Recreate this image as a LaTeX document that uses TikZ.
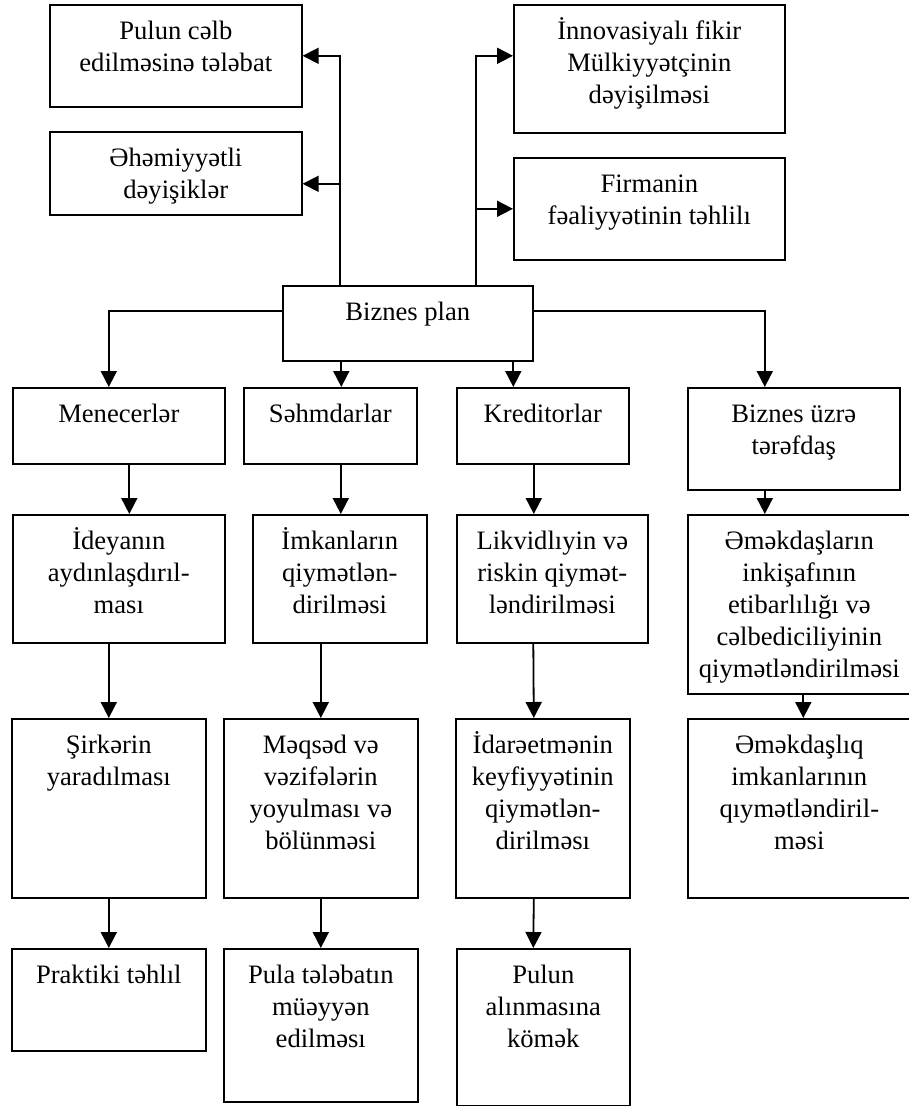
\documentclass[tikz,border=0pt]{standalone}
\usepackage{fontspec}
\setmainfont{Liberation Serif}
\usetikzlibrary{arrows.meta}
\newcommand\tb[3]{\parbox[c][#2pt][t]{#1pt}{\centering\vspace*{12pt}\strut #3}}
\tikzset{
  blk/.style={draw,line width=1.6pt,inner sep=0pt,anchor=north west,
    font=\fontsize{26.6}{32}\selectfont},
}
\begin{document}
\begin{tikzpicture}[x=1pt,y=-1pt,line width=1.8pt,>={Triangle[length=16pt,width=16pt]}]
\useasboundingbox (0,0) rectangle (908,1106);
\node[blk] (pulc) at (49,4) {\tb{252}{102}{Pulun cəlb\\edilməsinə tələbat}};
\node[blk] (ahem) at (49,131) {\tb{252}{83}{Əhəmiyyətli\\dəyişiklər}};
\node[blk] (innov) at (513,4) {\tb{271}{128}{İnnovasiyalı fikir\\Mülkiyyətçinin\\dəyişilməsi}};
\node[blk] (firm) at (513,157) {\tb{271}{102}{Firmanin\\fəaliyyətinin təhlilı}};
\node[blk] (plan) at (282,285) {\tb{250}{75}{Biznes plan}};
\node[blk] (menec) at (12,387) {\tb{212}{76}{Menecerlər}};
\node[blk] (sehm) at (243,387) {\tb{173}{76}{Səhmdarlar}};
\node[blk] (kred) at (456,387) {\tb{172}{76}{Kreditorlar}};
\node[blk] (terf) at (687,387) {\tb{212}{102}{Biznes üzrə\\tərəfdaş}};
\node[blk] (ideya) at (12,514) {\tb{212}{128}{İdeyanın\\aydınlaşdırıl-\\ması}};
\node[blk] (imkan) at (252,514) {\tb{174}{128}{İmkanların\\qiymətlən-\\dirilməsi}};
\node[blk] (likv) at (456,514) {\tb{191}{128}{Likvidlıyin və\\riskin qiymət-\\ləndirilməsi}};
\node[blk] (emek) at (687,514) {\tb{223}{179}{Əməkdaşların\\inkişafının\\etibarlılığı və\\cəlbediciliyinin\\qiymətləndirilməsi}};
\node[blk] (sirk) at (11,718) {\tb{194}{179}{Şirkərin\\yaradılması}};
\node[blk] (meqs) at (223,718) {\tb{194}{179}{Məqsəd və\\vəzifələrin\\yoyulması və\\bölünməsi}};
\node[blk] (idar) at (455,718) {\tb{174}{179}{İdarəetmənin\\keyfiyyətinin\\qiymətlən-\\dirilməsı}};
\node[blk] (emekl) at (687,718) {\tb{223}{179}{Əməkdaşlıq\\imkanlarının\\qıymətləndiril-\\məsi}};
\node[blk] (prak) at (11,948) {\tb{194}{102}{Praktiki təhlıl}};
\node[blk] (pula) at (223,948) {\tb{194}{153}{Pula tələbatın\\müəyyən\\edilməsı}};
\node[blk] (pulal) at (456,948) {\tb{173}{157}{Pulun\\alınmasına\\kömək}};
\draw[->] ([xshift=-67.5pt]plan.north) |- (pulc.east);
\draw[->] ([xshift=-67.5pt]plan.north) |- ([yshift=-10.5pt]ahem.east);
\draw[->] ([xshift=68pt]plan.north) |- ([yshift=13pt]innov.west);
\draw[->] ([xshift=68pt]plan.north) |- (firm.west);
\draw[->] ([yshift=12.5pt]plan.west) -| ([xshift=-10pt]menec.north);
\draw[->] ([yshift=12.5pt]plan.east) -| ([xshift=-29pt]terf.north);
\draw[->] ([xshift=-66.5pt]plan.south) -- ([xshift=11pt]sehm.north);
\draw[->] ([xshift=105.5pt]plan.south) -- ([xshift=-29.5pt]kred.north);
\draw[->] ([xshift=10.5pt]menec.south) -- ([xshift=10.5pt]ideya.north);
\draw[->] ([xshift=10.5pt]sehm.south) -- ([xshift=1pt]imkan.north);
\draw[->] ([xshift=-9pt]kred.south) -- ([xshift=-18.5pt]likv.north);
\draw[->] ([xshift=-29pt]terf.south) -- ([xshift=-34.5pt]emek.north);
\draw[->] ([xshift=-10pt]ideya.south) -- (sirk.north);
\draw[->] ([xshift=-19pt]imkan.south) -- (meqs.north);
\draw[->] ([xshift=-19pt]likv.south) -- ([xshift=-9pt]idar.north);
\draw[->] ([xshift=4pt]emek.south) -- ([xshift=4pt]emekl.north);
\draw[->] (sirk.south) -- (prak.north);
\draw[->] (meqs.south) -- (pula.north);
\draw[->] ([xshift=-9pt]idar.south) -- ([xshift=-10pt]pulal.north);
\end{tikzpicture}
\end{document}
